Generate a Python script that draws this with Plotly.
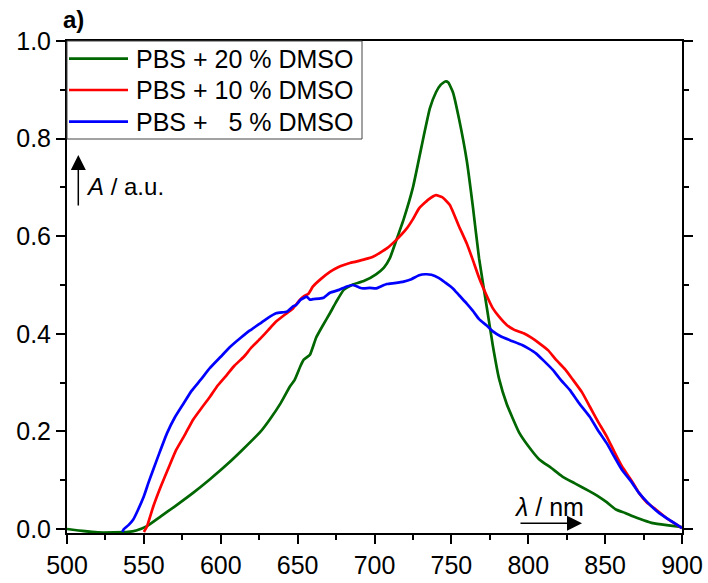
import plotly.graph_objects as go

# ---- data ----
wl_20 = [500, 505, 510, 520, 530, 540, 545, 552, 561, 570, 582, 593, 604, 615, 626, 632, 639, 645, 648,
         652, 654, 658, 662, 666, 671, 675, 680, 686, 693, 701, 706, 710, 714, 719, 725, 732, 736, 740,
         743, 746, 748, 751, 755, 760, 764, 768, 773, 777, 781, 786, 794, 800, 807, 815, 822, 830, 840,
         846, 851, 857, 863, 868, 875, 881, 890, 898, 900]
a_20 = [0.000, -0.002, -0.004, -0.007, -0.007, -0.006, -0.003, 0.006, 0.026, 0.046, 0.074, 0.102, 0.132,
        0.165, 0.200, 0.225, 0.258, 0.292, 0.305, 0.335, 0.347, 0.357, 0.392, 0.415, 0.442, 0.465, 0.490,
        0.501, 0.508, 0.522, 0.535, 0.555, 0.590, 0.635, 0.700, 0.805, 0.862, 0.895, 0.910, 0.917, 0.915,
        0.895, 0.840, 0.755, 0.660, 0.555, 0.455, 0.375, 0.308, 0.256, 0.198, 0.170, 0.143, 0.125, 0.108,
        0.094, 0.077, 0.066, 0.055, 0.040, 0.033, 0.026, 0.018, 0.012, 0.008, 0.005, 0.004]

wl_10 = [550, 552, 556, 561, 566, 571, 577, 582, 588, 593, 598, 604, 609, 615, 620, 626, 631, 636, 642,
         647, 651, 654, 657, 660, 665, 671, 676, 680, 684, 688, 694, 699, 704, 708, 714, 721, 725, 729,
         735, 740, 744, 749, 755, 760, 764, 768, 773, 777, 781, 786, 791, 797, 802, 807, 813, 818, 824,
         829, 835, 840, 845, 851, 856, 861, 867, 872, 877, 883, 890, 895, 900]
a_10 = [-0.006, 0.005, 0.045, 0.087, 0.125, 0.162, 0.195, 0.224, 0.250, 0.271, 0.294, 0.316, 0.335,
        0.353, 0.372, 0.391, 0.408, 0.425, 0.440, 0.452, 0.468, 0.477, 0.482, 0.497, 0.512, 0.527, 0.536,
        0.541, 0.545, 0.548, 0.553, 0.558, 0.567, 0.575, 0.592, 0.616, 0.635, 0.657, 0.675, 0.684, 0.680,
        0.664, 0.620, 0.585, 0.551, 0.515, 0.478, 0.452, 0.435, 0.418, 0.408, 0.401, 0.392, 0.381, 0.366,
        0.347, 0.327, 0.306, 0.280, 0.251, 0.222, 0.190, 0.158, 0.128, 0.100, 0.074, 0.055, 0.040, 0.022,
        0.012, 0.002]

wl_5 = [536, 537, 540, 543, 546, 550, 553, 556, 560, 565, 570, 576, 581, 587, 593, 600, 606, 613, 619,
        626, 631, 636, 640, 643, 647, 649, 652, 656, 658, 660, 664, 667, 671, 677, 682, 686, 690, 693,
        697, 701, 704, 708, 713, 719, 724, 729, 733, 737, 742, 746, 751, 755, 760, 764, 768, 773, 777,
        782, 788, 796, 800, 805, 810, 816, 821, 827, 833, 840, 845, 851, 856, 861, 867, 872, 878, 885,
        892, 900]
a_5 = [-0.006, 0.000, 0.008, 0.019, 0.038, 0.067, 0.095, 0.121, 0.155, 0.196, 0.228, 0.258, 0.283, 0.306,
       0.330, 0.353, 0.373, 0.392, 0.407, 0.422, 0.433, 0.442, 0.444, 0.445, 0.456, 0.459, 0.470, 0.476,
       0.470, 0.471, 0.472, 0.474, 0.484, 0.490, 0.497, 0.500, 0.495, 0.493, 0.494, 0.493, 0.497, 0.502,
       0.504, 0.507, 0.512, 0.520, 0.522, 0.521, 0.514, 0.505, 0.493, 0.479, 0.462, 0.447, 0.430, 0.417,
       0.405, 0.395, 0.387, 0.377, 0.370, 0.360, 0.345, 0.326, 0.306, 0.285, 0.258, 0.230, 0.204, 0.176,
       0.148, 0.121, 0.097, 0.074, 0.053, 0.033, 0.018, 0.002]

names = ["PBS + 20 % DMSO", "PBS + 10 % DMSO", "PBS +\u00a0\u20075 % DMSO"]
colors = ["rgb(0,102,0)", "rgb(255,0,0)", "rgb(0,0,255)"]

FONT = "Liberation Sans, Arial, sans-serif"

# plot-area geometry in pixels (for placing decorations in paper coordinates)
W, H = 708, 583
ML, MR, MT, MB = 67, 26, 41, 50
PW, PH = W - ML - MR, H - MT - MB


def px(xp):
    return (xp - ML) / PW


def py(yp):
    return (H - MB - yp) / PH


fig = go.Figure()
for wl, a, nm, c in [(wl_20, a_20, names[0], colors[0]),
                     (wl_10, a_10, names[1], colors[1]),
                     (wl_5, a_5, names[2], colors[2])]:
    fig.add_trace(go.Scatter(x=wl, y=a, mode="lines", name=nm, showlegend=False,
                             line=dict(color=c, width=2.7, shape="spline", smoothing=0.4)))

axis_common = dict(
    showgrid=False, zeroline=False, showline=True, linecolor="black", linewidth=2,
    ticks="outside", ticklen=9, tickwidth=1.5, tickcolor="black", automargin=False,
    tickfont=dict(family=FONT, size=25, color="black"),
)

fig.update_layout(
    width=W, height=H,
    margin=dict(l=ML, r=MR, t=MT, b=MB, pad=0, autoexpand=False),
    paper_bgcolor="white", plot_bgcolor="white",
    font=dict(family=FONT, size=25, color="black"),
    xaxis=dict(range=[500, 900], dtick=50, tick0=500, mirror=True,
               minor=dict(dtick=25, ticklen=5, tickwidth=1.5, ticks="outside", tickcolor="black"),
               **axis_common),
    yaxis=dict(range=[-0.0082, 1.0], dtick=0.2, tick0=0, tickformat=".1f", mirror="ticks",
               minor=dict(dtick=0.1, ticklen=5, tickwidth=1.5, ticks="outside", tickcolor="black"),
               **axis_common),
    showlegend=False,
)

# ---- legend box drawn by hand ----
fig.add_shape(type="rect", xref="paper", yref="paper", x0=0, x1=px(362), y0=py(139), y1=1,
              line=dict(color="#444", width=1), fillcolor="white", layer="above")
row_y = [58.7, 90.0, 121.7]
for ry, nm, c in zip(row_y, names, colors):
    fig.add_shape(type="line", xref="paper", yref="paper", x0=px(69), x1=px(128), y0=py(ry), y1=py(ry),
                  line=dict(color=c, width=2.7), layer="above")
    fig.add_annotation(xref="paper", yref="paper", x=px(134), y=py(ry), xanchor="left", yanchor="middle",
                       text=nm, showarrow=False, font=dict(family=FONT, size=25, color="black"))

# panel label
fig.add_annotation(xref="paper", yref="paper", x=px(61), y=py(19), xanchor="left", yanchor="middle",
                   text="<b>a)</b>", showarrow=False, font=dict(family=FONT, size=24, color="black"))

# y-axis label with arrow
fig.add_annotation(xref="paper", yref="paper", x=px(78.3), y=py(155), ax=0, ay=52,
                   axref="pixel", ayref="pixel", text="", showarrow=True,
                   arrowhead=2, arrowsize=2, arrowwidth=1.5, arrowcolor="black", standoff=0, startstandoff=0)
fig.add_annotation(xref="paper", yref="paper", x=px(84), y=py(186.7), xanchor="left", yanchor="middle",
                   text="<i>A</i> / a.u.", showarrow=False, font=dict(family=FONT, size=24, color="black"))

# x-axis label with arrow
fig.add_annotation(xref="paper", yref="paper", x=px(582), y=py(523.3), ax=-63, ay=0,
                   axref="pixel", ayref="pixel", text="", showarrow=True,
                   arrowhead=2, arrowsize=2, arrowwidth=1.5, arrowcolor="black", standoff=0, startstandoff=0)
fig.add_annotation(xref="paper", yref="paper", x=px(512), y=py(507), xanchor="left", yanchor="middle",
                   text="<i>λ</i> / nm", showarrow=False, font=dict(family=FONT, size=25, color="black"))

fig.write_html("out.html")
